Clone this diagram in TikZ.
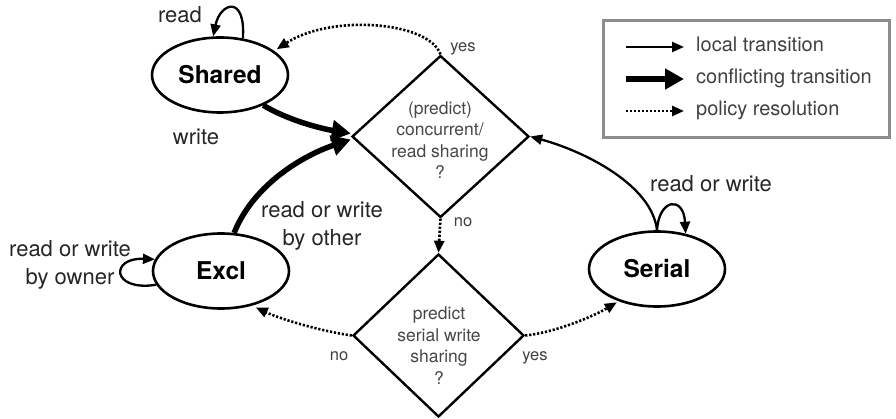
\documentclass[tikz,border=0pt]{standalone}
\usepackage{fontspec}
\setmainfont{TeX Gyre Heros}
\usetikzlibrary{shapes.geometric,arrows.meta}
\begin{document}
\begin{tikzpicture}[x=1pt,y=-1pt,
 state/.style={ellipse,draw,line width=2.6pt,minimum width=136pt,minimum height=75pt,inner sep=0pt,font=\fontsize{24.5}{28}\selectfont\bfseries},
 decision/.style={diamond,draw,line width=2.4pt,inner sep=0pt},
 dtext/.style={align=center,text=black!72,font=\fontsize{17.5}{21.5}\selectfont,inner sep=0pt},
 lbl/.style={text=black!85,font=\fontsize{22}{28}\selectfont,align=center,inner sep=0pt},
 small/.style={text=black!75,font=\fontsize{16.5}{20}\selectfont,inner sep=0pt},
 legtext/.style={text=black!75,font=\fontsize{20}{24}\selectfont,inner sep=0pt,anchor=base west},
 local/.style={line width=2.3pt,-{Triangle[length=12pt,width=10pt]}},
 conflict/.style={line width=5.5pt,-{Triangle[length=19pt,width=20pt]}},
 policy/.style={line width=2.6pt,dash pattern=on 2.2pt off 1.8pt,-{Triangle[length=12pt,width=10pt]}},
]
\useasboundingbox (0,0) rectangle (896,419);

% legend
\node[draw=black!45,line width=2.8pt,minimum width=286pt,minimum height=117pt,anchor=north west,inner sep=0pt] (leg) at (602,19) {};
\coordinate (l1s) at (626,47); \coordinate (l1e) at (684,47);
\coordinate (l2s) at (626,79); \coordinate (l2e) at (684,79);
\coordinate (l3s) at (626,111); \coordinate (l3e) at (684,111);
\draw[local] (l1s) -- (l1e);
\draw[conflict] (l2s) -- (l2e);
\draw[policy] (l3s) -- (l3e);
\node[legtext] (lt1) at (696,52) {local transition};
\node[legtext] (lt2) at (696,84) {conflicting transition};
\node[legtext] (lt3) at (696,116) {policy resolution};

% states
\node[state] (sh) at (220,75) {Shared};
\node[state] (ex) at (221,271) {Excl};
\node[state] (ser) at (657,269) {Serial};

% decisions
\node[decision,minimum width=177pt,minimum height=162pt] (d1) at (440.5,136.5) {};
\node[dtext] (d1t) at (440,140) {(predict)\\concurrent/\\read sharing\\?};
\node[decision,minimum width=171pt,minimum height=163pt] (d2) at (438.5,335.5) {};
\node[dtext] (d2t) at (439,345.5) {predict\\serial write\\sharing\\?};

% edges
\draw[local] (sh.58) .. controls +(3,-44) and +(7,-34) .. (sh.100);
\node[lbl,anchor=base] (lread) at (180,23) {read};

\draw[policy,shorten >=3pt] (d1.north) .. controls +(-12,-33) and +(57,-37) .. (sh.24);
\node[small,anchor=base] (lyes1) at (463,52) {yes};

\draw[conflict] (sh.-35) .. controls +(25,15) and +(-30,-5) .. ([yshift=3pt]d1.west);
\node[lbl,anchor=base] (lwrite) at (196,145) {write};

\draw[conflict] (ex.71) .. controls +(20,-50) and +(-45,15) .. ([yshift=-3pt]d1.west);
\node[lbl] (lother) at (322,225.5) {read or write\\by other};

\draw[local] (ex.192) .. controls +(-45,7) and +(-45,-2) .. (ex.170);
\node[lbl] (lowner) at (70,265) {read or write\\by owner};

\draw[policy] (d1.south) -- (d2.north);
\node[small,anchor=base] (lno1) at (463,227) {no};

\draw[policy,shorten >=4pt] (d2.west) .. controls +(-35,-5) and +(25,12) .. (ex.-48);
\node[small,anchor=base] (lno2) at (339,360) {no};

\draw[policy,shorten >=2pt] (d2.east) .. controls +(30,-3) and +(-25,15) .. (ser.220);
\node[small,anchor=base] (lyes2) at (535,360) {yes};

\draw[local] (ser.north) .. controls +(-5,-45) and +(55,15) .. (d1.east);
\draw[local] (ser.north) .. controls +(2,-32) and +(-2,-38) .. (ser.51);
\node[lbl,anchor=base] (lrw) at (711,192) {read or write};
\end{tikzpicture}
\end{document}
